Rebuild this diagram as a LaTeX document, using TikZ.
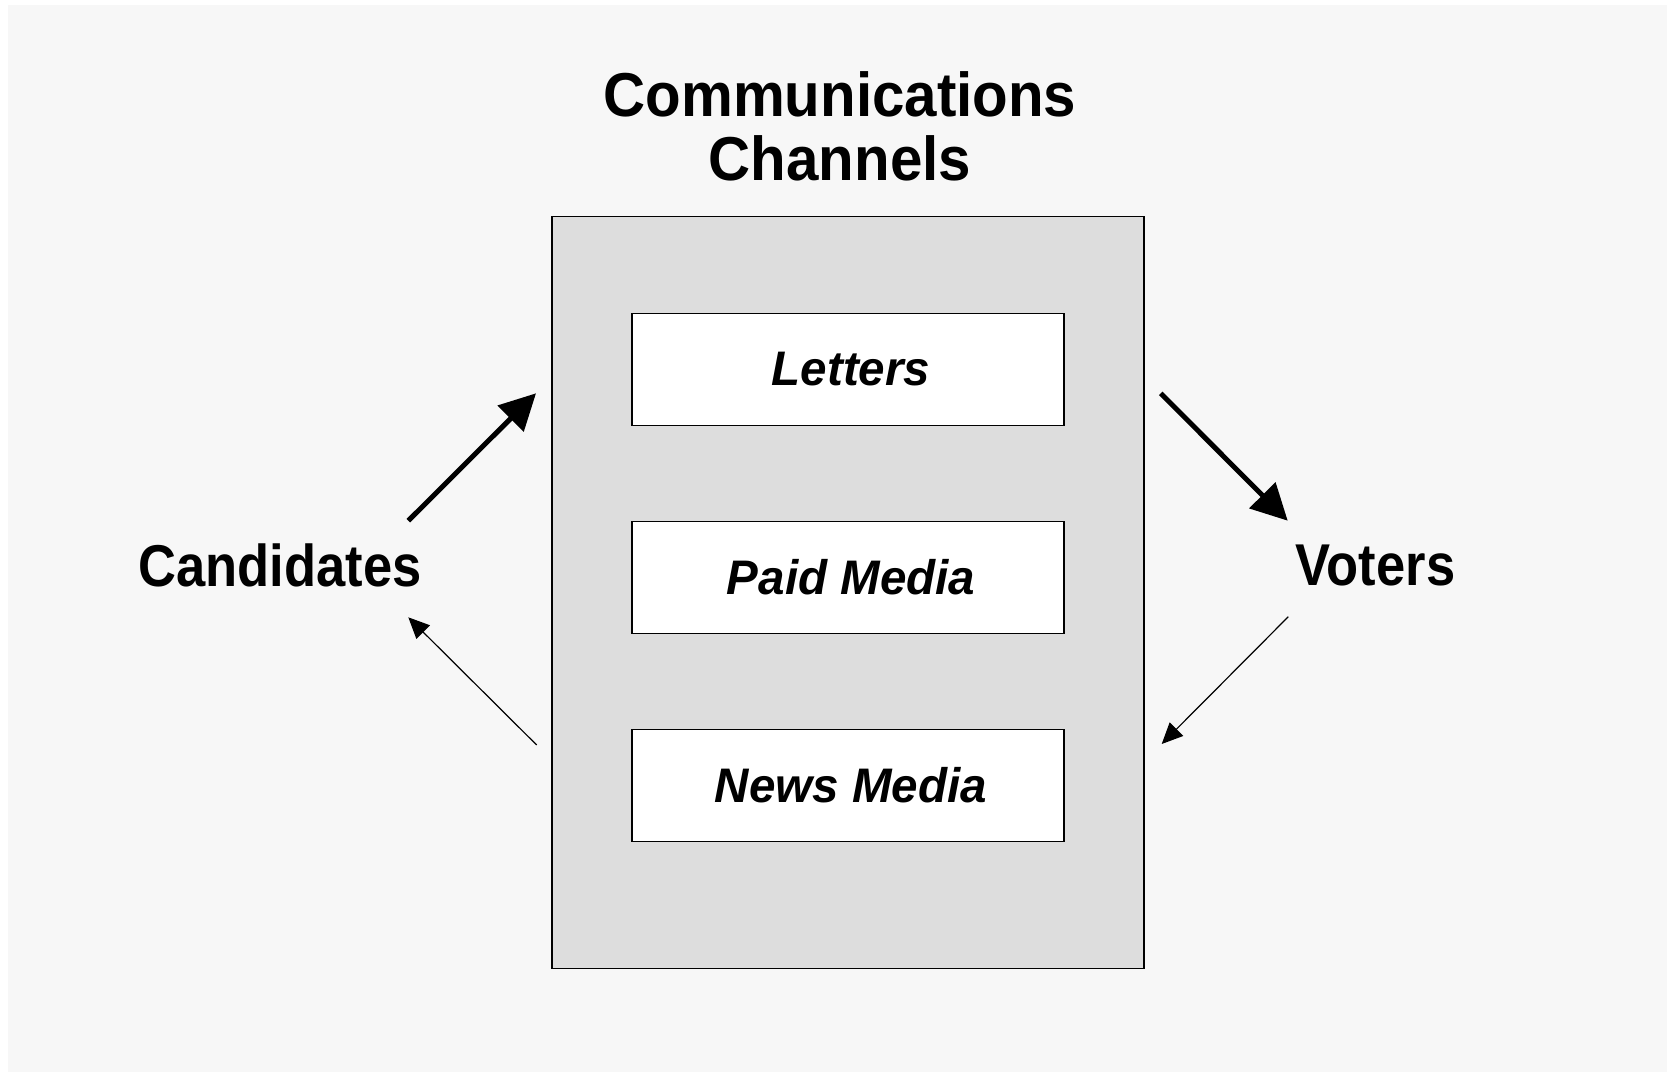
\documentclass[tikz,border=0pt]{standalone}
\usepackage{fontspec}
\setmainfont{Liberation Sans}
\newfontfamily\titlefont[FakeStretch=0.94]{Liberation Sans}
\newfontfamily\sidefont[FakeStretch=0.89]{Liberation Sans}
\newfontfamily\chanfont[FakeStretch=0.98]{Liberation Sans}
\definecolor{paperGray}{RGB}{247,247,247}
\definecolor{chanGray}{RGB}{221,221,221}
\usetikzlibrary{arrows.meta, positioning}

\tikzset{
  chanbox/.style={draw, fill=white, line width=1.5pt, minimum width=432pt, minimum height=112pt,
    inner sep=0pt, font=\chanfont\bfseries\itshape\fontsize{48.5}{58}\selectfont},
  sidelabel/.style={inner sep=0pt, font=\sidefont\bfseries\fontsize{59}{70}\selectfont},
  bigarrow/.style={line width=5pt, -{Triangle[length=36pt,width=36pt]}},
  thinarrow/.style={line width=1.2pt, -{Triangle[length=21pt,width=19pt]}}
}

\begin{document}
\begin{tikzpicture}[x=1pt, y=-1pt]
    % page and background
    \fill[white] (0,0) rectangle (1667,1071.6);
    \useasboundingbox (0,0) rectangle (1667,1071.6);
    \fill[paperGray] (8,5) rectangle (1667,1071.6);

    % title
    \node[align=center, inner sep=0pt, font=\titlefont\bfseries\fontsize{62}{63.7}\selectfont] (title) at (840,126.6)
      {Communications\\Channels};

    % channels
    \node[draw, fill=chanGray, line width=1.5pt, minimum width=592pt, minimum height=752pt, inner sep=0pt] (chans) at (848,592.5) {};
    \node[chanbox] (letters) at (848,369.4) {\hspace*{6pt}Letters};
    \node[chanbox, below=94.5pt of letters] (paid) {\hspace*{6pt}Paid Media};
    \node[chanbox, below=94.5pt of paid] (news) {\hspace*{6pt}News Media};

    % both sides
    \node[sidelabel] (cand) at (280,565) {Candidates};
    \node[sidelabel] (voters) at (1375.5,565) {Voters};

    % arrow ends
    \coordinate (candOut) at (408.3,520.7);
    \coordinate (chanIn) at (536,393.3);
    \coordinate (chanOut) at (1160.7,393.3);
    \coordinate (voterIn) at (1287.7,520.7);
    \coordinate (voterOut) at (1288.3,616.7);
    \coordinate (chanBackIn) at (1161.7,744);
    \coordinate (chanBackOut) at (536.7,745);
    \coordinate (candIn) at (408.3,617.3);

    \draw[bigarrow] (candOut) -- (chanIn);
    \draw[bigarrow] (chanOut) -- (voterIn);
    \draw[thinarrow] (voterOut) -- (chanBackIn);
    \draw[thinarrow] (chanBackOut) -- (candIn);
  \end{tikzpicture}
\end{document}
